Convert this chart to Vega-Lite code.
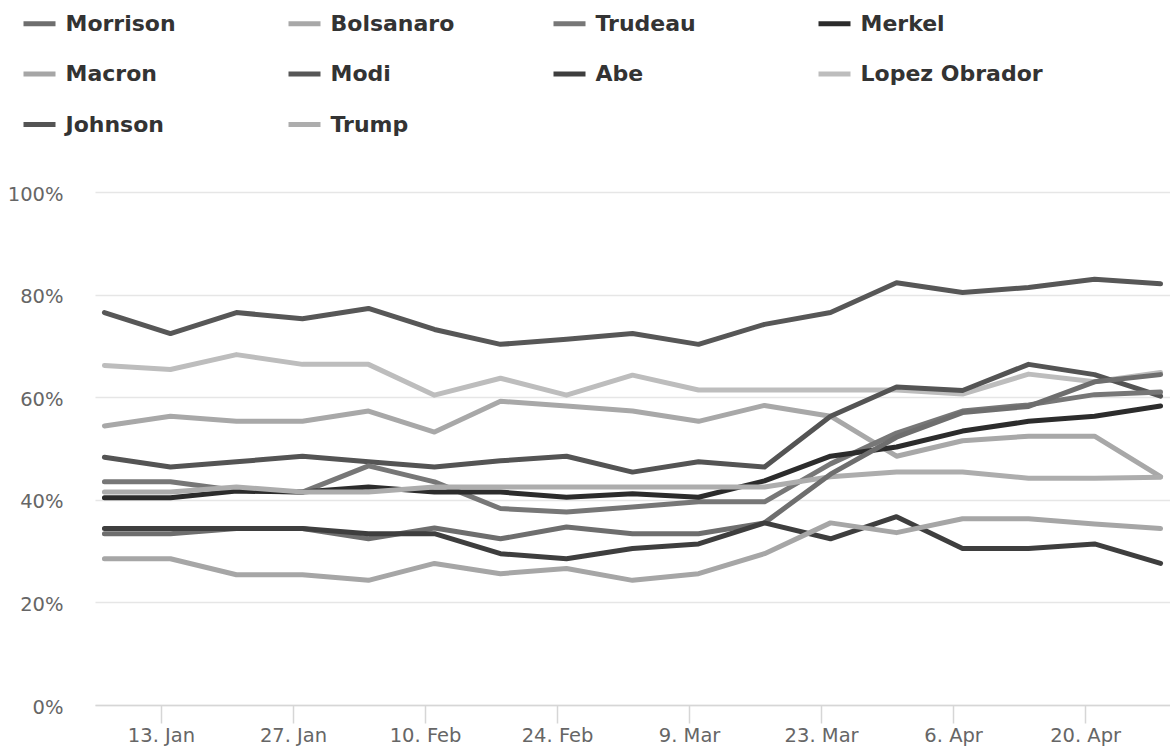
{
  "$schema": "https://vega.github.io/schema/vega-lite/v6.json",
  "width": 1075,
  "height": 513,
  "autosize": {"type": "none"},
  "padding": {"left": 95, "top": 192, "right": 0, "bottom": 42},
  "background": "white",
  "config": {
    "view": {"stroke": null},
    "font": "DejaVu Sans"
  },
  "data": {
    "values": [
      {"leader": "Modi", "date": "2020-01-07", "value": 76.5},
      {"leader": "Modi", "date": "2020-01-14", "value": 72.4},
      {"leader": "Modi", "date": "2020-01-21", "value": 76.5},
      {"leader": "Modi", "date": "2020-01-28", "value": 75.3},
      {"leader": "Modi", "date": "2020-02-04", "value": 77.3},
      {"leader": "Modi", "date": "2020-02-11", "value": 73.2},
      {"leader": "Modi", "date": "2020-02-18", "value": 70.3},
      {"leader": "Modi", "date": "2020-02-25", "value": 71.3},
      {"leader": "Modi", "date": "2020-03-03", "value": 72.4},
      {"leader": "Modi", "date": "2020-03-10", "value": 70.3},
      {"leader": "Modi", "date": "2020-03-17", "value": 74.2},
      {"leader": "Modi", "date": "2020-03-24", "value": 76.5},
      {"leader": "Modi", "date": "2020-03-31", "value": 82.3},
      {"leader": "Modi", "date": "2020-04-07", "value": 80.4},
      {"leader": "Modi", "date": "2020-04-14", "value": 81.4},
      {"leader": "Modi", "date": "2020-04-21", "value": 83.0},
      {"leader": "Modi", "date": "2020-04-28", "value": 82.1},

      {"leader": "Lopez Obrador", "date": "2020-01-07", "value": 66.2},
      {"leader": "Lopez Obrador", "date": "2020-01-14", "value": 65.4},
      {"leader": "Lopez Obrador", "date": "2020-01-21", "value": 68.3},
      {"leader": "Lopez Obrador", "date": "2020-01-28", "value": 66.4},
      {"leader": "Lopez Obrador", "date": "2020-02-04", "value": 66.4},
      {"leader": "Lopez Obrador", "date": "2020-02-11", "value": 60.4},
      {"leader": "Lopez Obrador", "date": "2020-02-18", "value": 63.7},
      {"leader": "Lopez Obrador", "date": "2020-02-25", "value": 60.4},
      {"leader": "Lopez Obrador", "date": "2020-03-03", "value": 64.3},
      {"leader": "Lopez Obrador", "date": "2020-03-10", "value": 61.4},
      {"leader": "Lopez Obrador", "date": "2020-03-17", "value": 61.4},
      {"leader": "Lopez Obrador", "date": "2020-03-24", "value": 61.4},
      {"leader": "Lopez Obrador", "date": "2020-03-31", "value": 61.4},
      {"leader": "Lopez Obrador", "date": "2020-04-07", "value": 60.6},
      {"leader": "Lopez Obrador", "date": "2020-04-14", "value": 64.5},
      {"leader": "Lopez Obrador", "date": "2020-04-21", "value": 63.0},
      {"leader": "Lopez Obrador", "date": "2020-04-28", "value": 64.8},

      {"leader": "Bolsanaro", "date": "2020-01-07", "value": 54.4},
      {"leader": "Bolsanaro", "date": "2020-01-14", "value": 56.3},
      {"leader": "Bolsanaro", "date": "2020-01-21", "value": 55.3},
      {"leader": "Bolsanaro", "date": "2020-01-28", "value": 55.3},
      {"leader": "Bolsanaro", "date": "2020-02-04", "value": 57.3},
      {"leader": "Bolsanaro", "date": "2020-02-11", "value": 53.2},
      {"leader": "Bolsanaro", "date": "2020-02-18", "value": 59.2},
      {"leader": "Bolsanaro", "date": "2020-02-25", "value": 58.3},
      {"leader": "Bolsanaro", "date": "2020-03-03", "value": 57.3},
      {"leader": "Bolsanaro", "date": "2020-03-10", "value": 55.3},
      {"leader": "Bolsanaro", "date": "2020-03-17", "value": 58.4},
      {"leader": "Bolsanaro", "date": "2020-03-24", "value": 56.3},
      {"leader": "Bolsanaro", "date": "2020-03-31", "value": 48.5},
      {"leader": "Bolsanaro", "date": "2020-04-07", "value": 51.5},
      {"leader": "Bolsanaro", "date": "2020-04-14", "value": 52.4},
      {"leader": "Bolsanaro", "date": "2020-04-21", "value": 52.4},
      {"leader": "Bolsanaro", "date": "2020-04-28", "value": 44.5},

      {"leader": "Johnson", "date": "2020-01-07", "value": 48.3},
      {"leader": "Johnson", "date": "2020-01-14", "value": 46.4},
      {"leader": "Johnson", "date": "2020-01-21", "value": 47.4},
      {"leader": "Johnson", "date": "2020-01-28", "value": 48.5},
      {"leader": "Johnson", "date": "2020-02-04", "value": 47.4},
      {"leader": "Johnson", "date": "2020-02-11", "value": 46.4},
      {"leader": "Johnson", "date": "2020-02-18", "value": 47.6},
      {"leader": "Johnson", "date": "2020-02-25", "value": 48.5},
      {"leader": "Johnson", "date": "2020-03-03", "value": 45.4},
      {"leader": "Johnson", "date": "2020-03-10", "value": 47.4},
      {"leader": "Johnson", "date": "2020-03-17", "value": 46.4},
      {"leader": "Johnson", "date": "2020-03-24", "value": 56.3},
      {"leader": "Johnson", "date": "2020-03-31", "value": 62.0},
      {"leader": "Johnson", "date": "2020-04-07", "value": 61.3},
      {"leader": "Johnson", "date": "2020-04-14", "value": 66.4},
      {"leader": "Johnson", "date": "2020-04-21", "value": 64.4},
      {"leader": "Johnson", "date": "2020-04-28", "value": 60.2},

      {"leader": "Trudeau", "date": "2020-01-07", "value": 43.5},
      {"leader": "Trudeau", "date": "2020-01-14", "value": 43.5},
      {"leader": "Trudeau", "date": "2020-01-21", "value": 41.8},
      {"leader": "Trudeau", "date": "2020-01-28", "value": 41.5},
      {"leader": "Trudeau", "date": "2020-02-04", "value": 46.6},
      {"leader": "Trudeau", "date": "2020-02-11", "value": 43.5},
      {"leader": "Trudeau", "date": "2020-02-18", "value": 38.3},
      {"leader": "Trudeau", "date": "2020-02-25", "value": 37.6},
      {"leader": "Trudeau", "date": "2020-03-03", "value": 38.6},
      {"leader": "Trudeau", "date": "2020-03-10", "value": 39.6},
      {"leader": "Trudeau", "date": "2020-03-17", "value": 39.6},
      {"leader": "Trudeau", "date": "2020-03-24", "value": 47.0},
      {"leader": "Trudeau", "date": "2020-03-31", "value": 53.0},
      {"leader": "Trudeau", "date": "2020-04-07", "value": 57.3},
      {"leader": "Trudeau", "date": "2020-04-14", "value": 58.5},
      {"leader": "Trudeau", "date": "2020-04-21", "value": 60.5},
      {"leader": "Trudeau", "date": "2020-04-28", "value": 61.0},

      {"leader": "Merkel", "date": "2020-01-07", "value": 40.4},
      {"leader": "Merkel", "date": "2020-01-14", "value": 40.4},
      {"leader": "Merkel", "date": "2020-01-21", "value": 41.7},
      {"leader": "Merkel", "date": "2020-01-28", "value": 41.5},
      {"leader": "Merkel", "date": "2020-02-04", "value": 42.5},
      {"leader": "Merkel", "date": "2020-02-11", "value": 41.5},
      {"leader": "Merkel", "date": "2020-02-18", "value": 41.5},
      {"leader": "Merkel", "date": "2020-02-25", "value": 40.5},
      {"leader": "Merkel", "date": "2020-03-03", "value": 41.2},
      {"leader": "Merkel", "date": "2020-03-10", "value": 40.5},
      {"leader": "Merkel", "date": "2020-03-17", "value": 43.7},
      {"leader": "Merkel", "date": "2020-03-24", "value": 48.5},
      {"leader": "Merkel", "date": "2020-03-31", "value": 50.3},
      {"leader": "Merkel", "date": "2020-04-07", "value": 53.4},
      {"leader": "Merkel", "date": "2020-04-14", "value": 55.3},
      {"leader": "Merkel", "date": "2020-04-21", "value": 56.3},
      {"leader": "Merkel", "date": "2020-04-28", "value": 58.3},

      {"leader": "Trump", "date": "2020-01-07", "value": 41.5},
      {"leader": "Trump", "date": "2020-01-14", "value": 41.5},
      {"leader": "Trump", "date": "2020-01-21", "value": 42.5},
      {"leader": "Trump", "date": "2020-01-28", "value": 41.5},
      {"leader": "Trump", "date": "2020-02-04", "value": 41.5},
      {"leader": "Trump", "date": "2020-02-11", "value": 42.5},
      {"leader": "Trump", "date": "2020-02-18", "value": 42.5},
      {"leader": "Trump", "date": "2020-02-25", "value": 42.5},
      {"leader": "Trump", "date": "2020-03-03", "value": 42.5},
      {"leader": "Trump", "date": "2020-03-10", "value": 42.5},
      {"leader": "Trump", "date": "2020-03-17", "value": 42.5},
      {"leader": "Trump", "date": "2020-03-24", "value": 44.5},
      {"leader": "Trump", "date": "2020-03-31", "value": 45.4},
      {"leader": "Trump", "date": "2020-04-07", "value": 45.4},
      {"leader": "Trump", "date": "2020-04-14", "value": 44.2},
      {"leader": "Trump", "date": "2020-04-21", "value": 44.2},
      {"leader": "Trump", "date": "2020-04-28", "value": 44.4},

      {"leader": "Morrison", "date": "2020-01-07", "value": 33.4},
      {"leader": "Morrison", "date": "2020-01-14", "value": 33.4},
      {"leader": "Morrison", "date": "2020-01-21", "value": 34.4},
      {"leader": "Morrison", "date": "2020-01-28", "value": 34.4},
      {"leader": "Morrison", "date": "2020-02-04", "value": 32.4},
      {"leader": "Morrison", "date": "2020-02-11", "value": 34.5},
      {"leader": "Morrison", "date": "2020-02-18", "value": 32.4},
      {"leader": "Morrison", "date": "2020-02-25", "value": 34.7},
      {"leader": "Morrison", "date": "2020-03-03", "value": 33.4},
      {"leader": "Morrison", "date": "2020-03-10", "value": 33.4},
      {"leader": "Morrison", "date": "2020-03-17", "value": 35.5},
      {"leader": "Morrison", "date": "2020-03-24", "value": 45.0},
      {"leader": "Morrison", "date": "2020-03-31", "value": 52.2},
      {"leader": "Morrison", "date": "2020-04-07", "value": 57.0},
      {"leader": "Morrison", "date": "2020-04-14", "value": 58.2},
      {"leader": "Morrison", "date": "2020-04-21", "value": 63.0},
      {"leader": "Morrison", "date": "2020-04-28", "value": 64.4},

      {"leader": "Abe", "date": "2020-01-07", "value": 34.4},
      {"leader": "Abe", "date": "2020-01-14", "value": 34.4},
      {"leader": "Abe", "date": "2020-01-21", "value": 34.4},
      {"leader": "Abe", "date": "2020-01-28", "value": 34.4},
      {"leader": "Abe", "date": "2020-02-04", "value": 33.4},
      {"leader": "Abe", "date": "2020-02-11", "value": 33.4},
      {"leader": "Abe", "date": "2020-02-18", "value": 29.5},
      {"leader": "Abe", "date": "2020-02-25", "value": 28.5},
      {"leader": "Abe", "date": "2020-03-03", "value": 30.5},
      {"leader": "Abe", "date": "2020-03-10", "value": 31.4},
      {"leader": "Abe", "date": "2020-03-17", "value": 35.5},
      {"leader": "Abe", "date": "2020-03-24", "value": 32.4},
      {"leader": "Abe", "date": "2020-03-31", "value": 36.7},
      {"leader": "Abe", "date": "2020-04-07", "value": 30.5},
      {"leader": "Abe", "date": "2020-04-14", "value": 30.5},
      {"leader": "Abe", "date": "2020-04-21", "value": 31.4},
      {"leader": "Abe", "date": "2020-04-28", "value": 27.6},

      {"leader": "Macron", "date": "2020-01-07", "value": 28.5},
      {"leader": "Macron", "date": "2020-01-14", "value": 28.5},
      {"leader": "Macron", "date": "2020-01-21", "value": 25.4},
      {"leader": "Macron", "date": "2020-01-28", "value": 25.4},
      {"leader": "Macron", "date": "2020-02-04", "value": 24.3},
      {"leader": "Macron", "date": "2020-02-11", "value": 27.6},
      {"leader": "Macron", "date": "2020-02-18", "value": 25.6},
      {"leader": "Macron", "date": "2020-02-25", "value": 26.6},
      {"leader": "Macron", "date": "2020-03-03", "value": 24.3},
      {"leader": "Macron", "date": "2020-03-10", "value": 25.6},
      {"leader": "Macron", "date": "2020-03-17", "value": 29.5},
      {"leader": "Macron", "date": "2020-03-24", "value": 35.5},
      {"leader": "Macron", "date": "2020-03-31", "value": 33.6},
      {"leader": "Macron", "date": "2020-04-07", "value": 36.3},
      {"leader": "Macron", "date": "2020-04-14", "value": 36.3},
      {"leader": "Macron", "date": "2020-04-21", "value": 35.3},
      {"leader": "Macron", "date": "2020-04-28", "value": 34.4}
    ]
  },
  "mark": {"type": "line", "strokeWidth": 5, "strokeJoin": "round", "strokeCap": "round"},
  "encoding": {
    "x": {
      "field": "date",
      "type": "temporal",
      "scale": {
        "type": "utc",
        "domain": [
          {"year": 2020, "month": 1, "date": 6, "utc": true},
          {"year": 2020, "month": 4, "date": 29, "utc": true}
        ]
      },
      "axis": {
        "title": null,
        "values": [
          {"year": 2020, "month": 1, "date": 13, "utc": true},
          {"year": 2020, "month": 1, "date": 27, "utc": true},
          {"year": 2020, "month": 2, "date": 10, "utc": true},
          {"year": 2020, "month": 2, "date": 24, "utc": true},
          {"year": 2020, "month": 3, "date": 9, "utc": true},
          {"year": 2020, "month": 3, "date": 23, "utc": true},
          {"year": 2020, "month": 4, "date": 6, "utc": true},
          {"year": 2020, "month": 4, "date": 20, "utc": true}
        ],
        "format": "%-d. %b",
        "grid": false,
        "domainColor": "#d6d6d6",
        "domainWidth": 1.5,
        "tickColor": "#d6d6d6",
        "tickWidth": 1.5,
        "tickSize": 18,
        "labelFont": "DejaVu Sans",
        "labelFontSize": 19.5,
        "labelColor": "#666666",
        "labelPadding": 3,
        "labelFlush": false
      }
    },
    "y": {
      "field": "value",
      "type": "quantitative",
      "scale": {"domain": [0, 100], "nice": false, "zero": true},
      "axis": {
        "title": null,
        "values": [0, 20, 40, 60, 80, 100],
        "labelExpr": "datum.value + '%'",
        "domain": false,
        "ticks": false,
        "gridColor": "#e6e6e6",
        "gridWidth": 1.5,
        "labelFont": "DejaVu Sans",
        "labelFontSize": 19.5,
        "labelColor": "#666666",
        "labelPadding": 32,
        "labelOffset": 2,
        "labelBaseline": "middle"
      }
    },
    "color": {
      "field": "leader",
      "type": "nominal",
      "scale": {
        "domain": ["Morrison", "Bolsanaro", "Trudeau", "Merkel", "Macron", "Modi", "Abe", "Lopez Obrador", "Johnson", "Trump"],
        "range": ["#6e6e6e", "#a8a8a8", "#777777", "#2c2c2c", "#a6a6a6", "#575757", "#3e3e3e", "#bdbdbd", "#545454", "#adadad"]
      },
      "legend": {
        "title": null,
        "orient": "none",
        "direction": "horizontal",
        "legendX": -74,
        "legendY": -187,
        "columns": 4,
        "gridAlign": "all",
        "columnPadding": 30,
        "rowPadding": 20.5,
        "symbolType": "stroke",
        "symbolSize": 1024,
        "symbolStrokeWidth": 5,
        "labelOffset": 7.5,
        "labelFont": "DejaVu Sans",
        "labelFontSize": 22,
        "labelFontWeight": "bold",
        "labelColor": "#333333",
        "labelLimit": 400
      }
    }
  }
}
